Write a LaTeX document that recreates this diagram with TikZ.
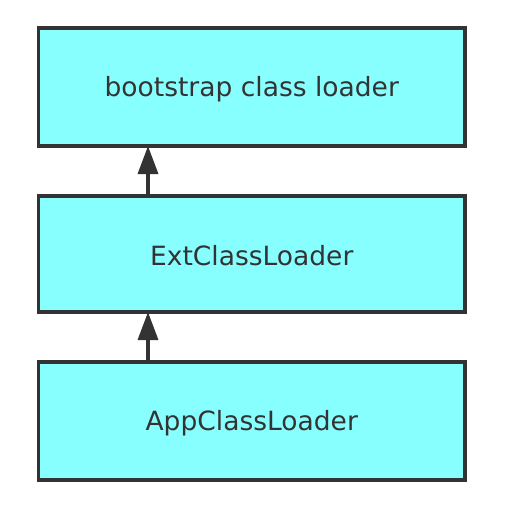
\documentclass[tikz,border=0pt]{standalone}
\usepackage{fontspec}
\setmainfont{DejaVu Sans}
\usetikzlibrary{arrows.meta}
\definecolor{boxfill}{RGB}{136,255,255}
\definecolor{ink}{RGB}{51,51,51}
\begin{document}
\begin{tikzpicture}[x=1pt,y=-1pt,
  box/.style={draw=ink,fill=boxfill,line width=3.4pt,outer sep=0pt,inner sep=0pt,
    minimum width=426.5pt,minimum height=118pt,text=ink,
    font=\fontsize{26.5pt}{30pt}\selectfont},
  lbl/.style={text=ink,font=\fontsize{26.5pt}{30pt}\selectfont,inner sep=0pt},
  arr/.style={draw=ink,line width=3.4pt,-{Triangle[width=20pt,length=28pt]}}]
\useasboundingbox (0,0) rectangle (508,512);
\node[box] (b1) at (251.75,87) {};
\node[box,minimum height=116pt] (b2) at (251.75,254) {};
\node[box] (b3) at (251.75,421) {};
\node[lbl] (t1) at ([yshift=-2pt]b1.center) {bootstrap class loader};
\node[lbl] (t2) at ([yshift=-2pt]b2.center) {ExtClassLoader};
\node[lbl] (t3) at ([yshift=-2pt]b3.center) {AppClassLoader};
\draw[arr] ([xshift=109.5pt]b2.north west) -- ([xshift=109.5pt]b1.south west);
\draw[arr] ([xshift=109.5pt]b3.north west) -- ([xshift=109.5pt]b2.south west);
\end{tikzpicture}
\end{document}
